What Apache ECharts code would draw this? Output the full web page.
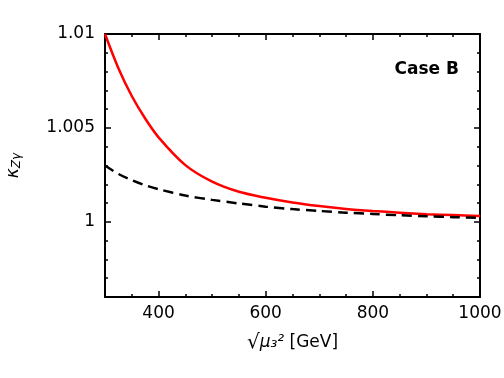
<!DOCTYPE html>
<html>
<head>
<meta charset="utf-8">
<script src="https://cdn.jsdelivr.net/npm/echarts@6/dist/echarts.min.js"></script>
<style>
  html, body { margin: 0; padding: 0; background: #fff; }
  #main { width: 504px; height: 378px; }
</style>
</head>
<body>
<div id="main"></div>
<script>
// values
var muValues = [300, 325, 350, 375, 400, 450, 500, 550, 600, 650, 700, 750, 800, 850, 900, 950, 1000];
var kappaSolid = [1.0100, 1.00818, 1.0067, 1.0055, 1.0045, 1.00302, 1.00214, 1.0016, 1.00128,
                  1.00103, 1.00084, 1.00069, 1.00058, 1.00049, 1.00041, 1.00036, 1.00031];
var kappaDashed = [1.0030, 1.00255, 1.00222, 1.00195, 1.00174, 1.0014, 1.00117, 1.00098, 1.00081,
                   1.00068, 1.00058, 1.00049, 1.00042, 1.00035, 1.0003, 1.00025, 1.00021];
var xTickLabels = [400, 600, 800, 1000];
var yTickLabels = [1, 1.005, 1.01];

var xMin = 300, xMax = 1000, yMin = 0.996, yMax = 1.01;

function pairs(xs, ys) {
    return xs.map(function (x, i) { return [x, ys[i]]; });
}

var fontFam = 'DejaVu Sans';

// x axes: major ticks + labels, minor ticks, mirrored on top
function xAxisDef(pos, major) {
    var a = {
        type: 'value', position: pos, min: xMin, max: xMax,
        splitLine: { show: false },
        axisLine: { show: major, onZero: false, lineStyle: { color: '#000', width: 2 } },
        axisTick: { show: true, inside: true, length: major ? 6 : 3, lineStyle: { color: '#000', width: 1.5 } },
        axisLabel: { show: false }
    };
    if (major) {
        a.axisTick.customValues = xTickLabels;
        if (pos === 'bottom') {
            a.axisLabel = { show: true, customValues: xTickLabels, color: '#000', fontSize: 17, fontFamily: fontFam, margin: 8,
                formatter: function (v) { return String(v); } };
            a.name = '{r|√}{m|μ₃²} [GeV]';
            a.nameLocation = 'middle';
            a.nameGap = 36;
            a.nameTextStyle = { color: '#000', fontSize: 17, fontFamily: fontFam,
                rich: {
                    r: { fontSize: 20, fontFamily: fontFam, color: '#000' },
                    m: { fontSize: 17, fontStyle: 'italic', fontFamily: fontFam, color: '#000' }
                } };
        }
    } else {
        a.interval = 50;
    }
    return a;
}

function yAxisDef(pos, major) {
    var a = {
        type: 'value', position: pos, min: yMin, max: yMax,
        splitLine: { show: false },
        axisLine: { show: major, onZero: false, lineStyle: { color: '#000', width: 2 } },
        axisTick: { show: true, inside: true, length: major ? 6 : 3, lineStyle: { color: '#000', width: 1.5 } },
        axisLabel: { show: false }
    };
    if (major) {
        a.axisTick.customValues = yTickLabels;
        if (pos === 'left') {
            a.axisLabel = { show: true, customValues: yTickLabels, color: '#000', fontSize: 17, fontFamily: fontFam, margin: 10,
                formatter: function (v) { return String(+v.toFixed(3)); } };
            a.name = '{k|κ}{s|Zγ}';
            a.nameLocation = 'middle';
            a.nameGap = 82;
            a.nameRotate = 90;
            a.nameTextStyle = {
                rich: {
                    k: { fontSize: 17, fontStyle: 'italic', fontFamily: fontFam, color: '#000' },
                    s: { fontSize: 12, fontStyle: 'italic', fontFamily: fontFam, color: '#000', padding: [6, 0, 0, 0] }
                }
            };
        }
    } else {
        a.interval = 0.001;
    }
    return a;
}

var myChart = echarts.init(document.getElementById('main'));

var option = {
    animation: false,
    backgroundColor: '#fff',
    title: {
        text: 'Case B',
        right: 40,
        top: 56,
        textStyle: { color: '#000', fontSize: 17, fontWeight: 'bold', fontFamily: fontFam }
    },
    grid: { left: 105, right: 24, top: 34, bottom: 81, outerBoundsMode: 'none' },
    xAxis: [xAxisDef('bottom', true), xAxisDef('bottom', false), xAxisDef('top', true), xAxisDef('top', false)],
    yAxis: [yAxisDef('left', true), yAxisDef('left', false), yAxisDef('right', true), yAxisDef('right', false)],
    series: [
        {
            name: 'solid',
            type: 'line',
            smooth: 0.3,
            symbol: 'none',
            xAxisIndex: 0, yAxisIndex: 0,
            lineStyle: { color: '#ff0000', width: 2.5 },
            data: pairs(muValues, kappaSolid)
        },
        {
            name: 'dashed',
            type: 'line',
            smooth: 0.3,
            symbol: 'none',
            xAxisIndex: 0, yAxisIndex: 0,
            lineStyle: { color: '#000', width: 2.5, type: [10, 6] },
            data: pairs(muValues, kappaDashed)
        }
    ]
};

myChart.setOption(option);
</script>
</body>
</html>
